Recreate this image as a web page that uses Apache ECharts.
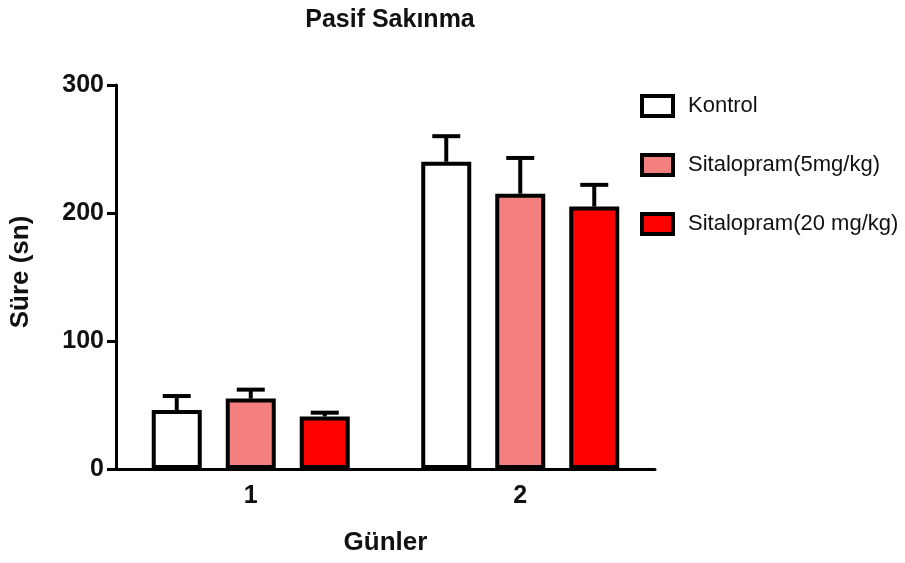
<!DOCTYPE html>
<html>
<head>
<meta charset="utf-8">
<script src="https://cdn.jsdelivr.net/npm/echarts@6/dist/echarts.min.js"></script>
<style>
  html, body { margin: 0; padding: 0; background: #fff; }
  #chart { width: 905px; height: 563px; }
</style>
</head>
<body>
<div id="chart"></div>
<script>
// Days on the x axis
const days = ['1', '2'];
// Group names
const groupNames = ['Kontrol', 'Sitalopram(5mg/kg)', 'Sitalopram(20 mg/kg)'];
// Mean latency per group, day 1 and day 2
const kontrolMean = [46, 240];
const sit5Mean = [55, 215];
const sit20Mean = [41, 205];
// Upper error (mean + SEM)
const kontrolUpper = [57, 260];
const sit5Upper = [62, 243];
const sit20Upper = [44, 222];
// Y axis ticks
const yTicks = [0, 100, 200, 300];

const means = [kontrolMean, sit5Mean, sit20Mean];
const uppers = [kontrolUpper, sit5Upper, sit20Upper];
const fills = ['#ffffff', '#f47f7f', '#ff0000'];

const BAR_W = 50;
const BAR_GAP = 24;
const font = '"Liberation Sans", Arial, Helvetica, sans-serif';

const chart = echarts.init(document.getElementById('chart'));

const barSeries = groupNames.map((name, i) => ({
  name: name,
  type: 'bar',
  data: means[i],
  barWidth: BAR_W,
  barGap: (BAR_GAP / BAR_W * 100) + '%',
  itemStyle: { color: fills[i], borderColor: '#000', borderWidth: 4 },
  z: 3
}));

const errSeries = groupNames.map((name, i) => ({
  type: 'custom',
  z: 2,
  silent: true,
  data: days.map((d, j) => [j, means[i][j], uppers[i][j]]),
  renderItem: function (params, api) {
    const offset = (i - 1) * (BAR_W + BAR_GAP);
    const base = api.coord([api.value(0), api.value(1)]);
    const top = api.coord([api.value(0), api.value(2)]);
    const x = base[0] + offset;
    const capHalf = 14;
    const style = { stroke: '#000', lineWidth: 4, fill: null };
    return {
      type: 'group',
      children: [
        { type: 'line', shape: { x1: x, y1: base[1], x2: x, y2: top[1] }, style: style },
        { type: 'line', shape: { x1: x - capHalf, y1: top[1], x2: x + capHalf, y2: top[1] }, style: style }
      ]
    };
  }
}));

chart.setOption({
  backgroundColor: '#fff',
  animation: false,
  title: {
    text: 'Pasif Sakınma',
    left: 385,
    textAlign: 'center',
    top: 3,
    textStyle: { fontFamily: font, fontSize: 25, fontWeight: 'bold', color: '#111' }
  },
  legend: {
    orient: 'vertical',
    left: 635,
    top: 89,
    itemWidth: 31,
    itemHeight: 20,
    itemGap: 35,
    icon: 'rect',
    data: groupNames,
    itemStyle: { borderColor: '#000', borderWidth: 4 },
    textStyle: { fontFamily: font, fontSize: 22, color: '#111', padding: [0, 0, 0, 10] }
  },
  grid: { left: 115, right: 250, top: 85, bottom: 94, containLabel: false },
  xAxis: {
    type: 'category',
    data: days,
    name: 'Günler',
    nameLocation: 'middle',
    nameGap: 61,
    nameTextStyle: { fontFamily: font, fontSize: 26, fontWeight: 'bold', color: '#111' },
    axisLine: { lineStyle: { color: '#000', width: 3 } },
    axisTick: { alignWithLabel: true, length: 9, lineStyle: { color: '#000', width: 3 } },
    axisLabel: { fontFamily: font, fontSize: 25, fontWeight: 'bold', color: '#111', margin: 15 }
  },
  yAxis: {
    type: 'value',
    min: yTicks[0],
    max: yTicks[yTicks.length - 1],
    interval: 100,
    name: 'Süre (sn)',
    nameLocation: 'middle',
    nameGap: 82,
    nameTextStyle: { fontFamily: font, fontSize: 26, fontWeight: 'bold', color: '#111', padding: [0, 0, 0, 10] },
    axisLine: { show: true, lineStyle: { color: '#000', width: 3 } },
    axisTick: { show: true, length: 9, lineStyle: { color: '#000', width: 3 } },
    axisLabel: { fontFamily: font, fontSize: 25, fontWeight: 'bold', color: '#111', margin: 12 },
    splitLine: { show: false }
  },
  series: barSeries.concat(errSeries)
});
</script>
</body>
</html>
